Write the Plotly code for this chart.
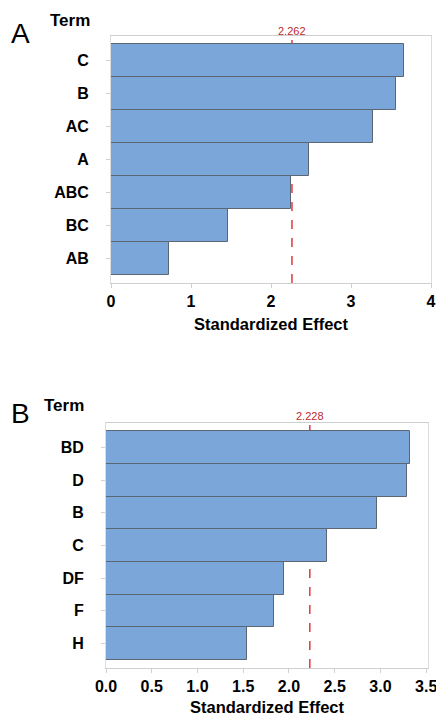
import plotly.graph_objects as go

# Panel A data
terms_a = ["C", "B", "AC", "A", "ABC", "BC", "AB"]
effects_a = [3.66, 3.56, 3.28, 2.47, 2.25, 1.46, 0.73]
crit_a = 2.262
ticks_a = [0, 1, 2, 3, 4]

# Panel B data
terms_b = ["BD", "D", "B", "C", "DF", "F", "H"]
effects_b = [3.32, 3.29, 2.96, 2.42, 1.95, 1.84, 1.54]
crit_b = 2.228
ticks_b = [0.0, 0.5, 1.0, 1.5, 2.0, 2.5, 3.0, 3.5]

W, H = 436, 715
BAR = "#7BA6D9"
EDGE = "#5b6672"
FONT = "Liberation Sans"

fig = go.Figure()
fig.add_trace(go.Bar(x=effects_a, y=terms_a, orientation="h", xaxis="x", yaxis="y",
                     width=1.0, marker=dict(color=BAR, line=dict(color=EDGE, width=1)),
                     showlegend=False))
fig.add_trace(go.Bar(x=effects_b, y=terms_b, orientation="h", xaxis="x2", yaxis="y2",
                     width=1.0, marker=dict(color=BAR, line=dict(color=EDGE, width=1)),
                     showlegend=False))

def px_x(p):
    return p / W

def px_y(p):
    return 1 - p / H

tickfont = dict(family=FONT, size=16, color="black")
common_x = dict(showgrid=False, zeroline=False, showline=True, linecolor="#cfcfcf", linewidth=1,
                mirror=True, ticks="outside", ticklen=4, tickcolor="#cfcfcf",
                tickfont=tickfont, fixedrange=True, automargin=False,
                ticklabeloverflow="allow")
common_y = dict(showgrid=False, zeroline=False, showline=True, linecolor="#dcdcdc", linewidth=1,
                mirror=True, ticks="outside", ticklen=4, tickcolor="#cfcfcf",
                tickfont=tickfont, type="category", range=[6.75, -0.75],
                ticklabelstandoff=14, fixedrange=True, automargin=False)

fig.update_layout(
    width=W, height=H, margin=dict(l=0, r=0, t=0, b=0),
    paper_bgcolor="white", plot_bgcolor="white", bargap=0,
    xaxis=dict(domain=[px_x(111), px_x(431)], anchor="y", range=[0, 4.0],
               tickvals=ticks_a, ticktext=[f"<b>{t}</b>" for t in ticks_a], **common_x),
    yaxis=dict(domain=[px_y(283), px_y(36)], anchor="x",
               categoryorder="array", categoryarray=terms_a,
               tickvals=terms_a, ticktext=[f"<b>{t}</b>" for t in terms_a], **common_y),
    xaxis2=dict(domain=[px_x(106), px_x(428)], anchor="y2", range=[0, 3.52],
                tickvals=ticks_b, ticktext=[f"<b>{t:.1f}</b>" for t in ticks_b], **common_x),
    yaxis2=dict(domain=[px_y(668), px_y(423)], anchor="x2",
                categoryorder="array", categoryarray=terms_b,
                tickvals=terms_b, ticktext=[f"<b>{t}</b>" for t in terms_b], **common_y),
)

# critical lines (below bars)
for xr, yr, c in [("x", "y", crit_a), ("x2", "y2", crit_b)]:
    fig.add_shape(type="line", xref=xr, yref=f"{yr} domain", x0=c, x1=c, y0=0, y1=1,
                  line=dict(color="#e0393e", width=1.5, dash="dash"), layer="below")

def text_ann(x, y, text, size, color="black", xref="paper"):
    return dict(xref=xref, yref="paper", x=x if xref != "paper" else px_x(x), y=px_y(y),
                xanchor="center", yanchor="middle", text=text, showarrow=False,
                font=dict(family=FONT, size=size, color=color))

ann = [
    text_ann(crit_a, 31, f"{crit_a}", 11, "#c0282d", xref="x"),
    text_ann(crit_b, 416, f"{crit_b}", 11, "#c0282d", xref="x2"),
    text_ann(271, 324, "<b>Standardized Effect</b>", 16.5),
    text_ann(267, 707, "<b>Standardized Effect</b>", 16.5),
    text_ann(70, 20, "<b>Term</b>", 17),
    text_ann(64, 405, "<b>Term</b>", 17),
    text_ann(20.5, 33, "A", 28),
    text_ann(20.5, 413, "B", 28),
]
fig.update_layout(annotations=ann)

fig.write_html("out.html", config={"displayModeBar": False},
               post_script="document.body.style.margin='0';")
